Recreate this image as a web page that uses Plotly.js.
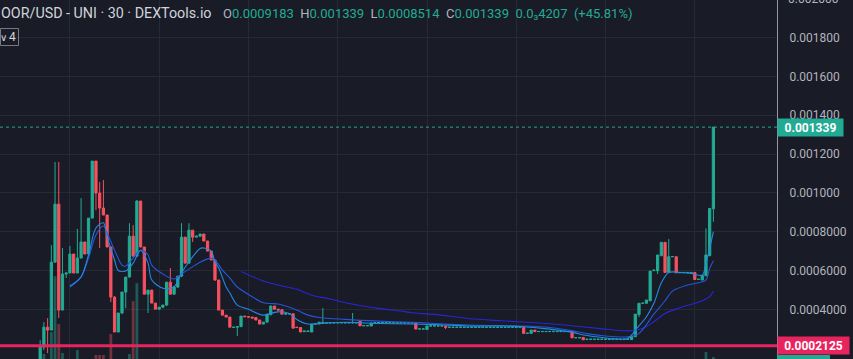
<!DOCTYPE html>
<html><head><meta charset="utf-8">
<script src="https://cdn.plot.ly/plotly-3.0.1.min.js"></script>
<style>html,body{margin:0;padding:0;background:#191b26;overflow:hidden}#chart{width:853px;height:359px}</style>
</head><body><div id="chart"></div>
<script>
// 30-minute candles, OOR/USD (price in USD)
const openP = [
0.000130,0.000205,0.000308,0.000293,0.000643,0.000942,0.000396,0.000582,0.000587,0.000685,
0.000587,0.000664,0.000747,0.000685,0.000870,0.001164,0.000999,0.000922,0.000886,0.000721,
0.000463,0.000283,0.000381,0.000489,0.000566,0.000777,0.000674,0.000958,0.000721,0.000478,
0.000499,0.000432,0.000401,0.000411,0.000422,0.000540,0.000478,0.000515,0.000571,0.000772,
0.000638,0.000808,0.000772,0.000777,0.000788,0.000752,0.000700,0.000654,0.000551,0.000396,
0.000370,0.000360,0.000306,0.000308,0.000311,0.000365,0.000362,0.000360,0.000358,0.000345,
0.000324,0.000334,0.000372,0.000417,0.000401,0.000398,0.000375,0.000376,0.000377,0.000308,
0.000306,0.000285,0.000286,0.000283,0.000324,0.000324,0.000330,0.000330,0.000330,0.000330,
0.000330,0.000330,0.000330,0.000330,0.000330,0.000330,0.000339,0.000315,0.000315,0.000314,
0.000330,0.000330,0.000330,0.000330,0.000330,0.000330,0.000330,0.000330,0.000330,0.000330,
0.000330,0.000329,0.000298,0.000298,0.000296,0.000314,0.000314,0.000314,0.000314,0.000314,
0.000307,0.000307,0.000307,0.000307,0.000307,0.000307,0.000307,0.000307,0.000307,0.000307,
0.000307,0.000307,0.000307,0.000307,0.000307,0.000307,0.000307,0.000307,0.000307,0.000307,
0.000307,0.000276,0.000276,0.000293,0.000285,0.000285,0.000285,0.000285,0.000285,0.000285,
0.000285,0.000285,0.000285,0.000286,0.000253,0.000253,0.000255,0.000245,0.000245,0.000245,
0.000245,0.000245,0.000245,0.000245,0.000245,0.000245,0.000245,0.000245,0.000245,0.000244,
0.000259,0.000373,0.000431,0.000431,0.000444,0.000599,0.000599,0.000676,0.000745,0.000590,
0.000671,0.000671,0.000588,0.000588,0.000588,0.000588,0.000590,0.000554,0.000551,0.000573,
0.000676,0.0009183];
const highP = [
0.000241,0.000334,0.000355,0.000731,0.001159,0.001159,0.000716,0.000587,0.000726,0.000685,
0.000814,0.000973,0.000747,0.000870,0.001164,0.001164,0.001056,0.001066,0.000886,0.000721,
0.000468,0.000381,0.000489,0.000566,0.000844,0.000834,0.000963,0.000958,0.000721,0.000499,
0.000499,0.000432,0.000411,0.000422,0.000540,0.000613,0.000515,0.000571,0.000844,0.000772,
0.000844,0.000808,0.000777,0.000788,0.000788,0.000752,0.000700,0.000654,0.000551,0.000396,
0.000370,0.000360,0.000308,0.000311,0.000365,0.000366,0.000363,0.000360,0.000360,0.000345,
0.000334,0.000375,0.000417,0.000417,0.000401,0.000398,0.000377,0.000377,0.000377,0.000308,
0.000306,0.000288,0.000288,0.000324,0.000325,0.000334,0.000406,0.000331,0.000331,0.000331,
0.000331,0.000331,0.000331,0.000331,0.000381,0.000331,0.000339,0.000316,0.000316,0.000330,
0.000331,0.000331,0.000331,0.000331,0.000331,0.000331,0.000331,0.000331,0.000331,0.000331,
0.000331,0.000329,0.000299,0.000299,0.000314,0.000315,0.000315,0.000315,0.000315,0.000314,
0.000308,0.000308,0.000308,0.000308,0.000308,0.000308,0.000308,0.000308,0.000308,0.000308,
0.000308,0.000308,0.000308,0.000308,0.000308,0.000308,0.000308,0.000308,0.000308,0.000308,
0.000307,0.000277,0.000293,0.000293,0.000286,0.000286,0.000286,0.000286,0.000286,0.000286,
0.000286,0.000286,0.000286,0.000286,0.000254,0.000254,0.000255,0.000246,0.000246,0.000246,
0.000246,0.000246,0.000246,0.000246,0.000246,0.000246,0.000246,0.000246,0.000246,0.000262,
0.000375,0.000431,0.000432,0.000448,0.000597,0.000602,0.000680,0.000745,0.000745,0.000762,
0.000672,0.000671,0.000590,0.000590,0.000590,0.000590,0.000590,0.000555,0.000576,0.000817,
0.000920,0.001339];
const lowP = [
0.000125,0.000190,0.000174,0.000293,0.000643,0.000355,0.000396,0.000561,0.000587,0.000587,
0.000587,0.000664,0.000685,0.000685,0.000870,0.000911,0.000716,0.000886,0.000721,0.000437,
0.000283,0.000283,0.000375,0.000406,0.000566,0.000674,0.000674,0.000721,0.000478,0.000381,
0.000432,0.000401,0.000396,0.000406,0.000417,0.000478,0.000478,0.000509,0.000566,0.000638,
0.000638,0.000747,0.000772,0.000772,0.000752,0.000700,0.000654,0.000546,0.000396,0.000370,
0.000360,0.000308,0.000306,0.000262,0.000308,0.000361,0.000359,0.000355,0.000345,0.000324,
0.000324,0.000334,0.000370,0.000401,0.000396,0.000375,0.000375,0.000376,0.000303,0.000306,
0.000283,0.000285,0.000286,0.000283,0.000324,0.000324,0.000330,0.000330,0.000330,0.000330,
0.000330,0.000330,0.000330,0.000330,0.000330,0.000330,0.000314,0.000315,0.000315,0.000314,
0.000330,0.000330,0.000330,0.000330,0.000330,0.000330,0.000330,0.000330,0.000330,0.000330,
0.000330,0.000298,0.000298,0.000298,0.000296,0.000314,0.000314,0.000314,0.000314,0.000298,
0.000307,0.000307,0.000307,0.000307,0.000307,0.000307,0.000307,0.000307,0.000307,0.000307,
0.000307,0.000307,0.000307,0.000307,0.000307,0.000307,0.000307,0.000307,0.000307,0.000307,
0.000276,0.000276,0.000276,0.000285,0.000285,0.000285,0.000285,0.000285,0.000285,0.000285,
0.000285,0.000285,0.000285,0.000253,0.000253,0.000253,0.000243,0.000245,0.000245,0.000245,
0.000245,0.000245,0.000245,0.000245,0.000245,0.000245,0.000245,0.000245,0.000245,0.000244,
0.000259,0.000360,0.000431,0.000431,0.000444,0.000599,0.000582,0.000676,0.000590,0.000590,
0.000671,0.000588,0.000588,0.000588,0.000588,0.000588,0.000554,0.000554,0.000551,0.000573,
0.000676,0.0008514];
const closeP = [
0.000205,0.000308,0.000293,0.000643,0.000942,0.000396,0.000582,0.000587,0.000685,0.000587,
0.000664,0.000747,0.000685,0.000870,0.001164,0.000999,0.000922,0.000886,0.000721,0.000463,
0.000283,0.000381,0.000489,0.000566,0.000777,0.000674,0.000958,0.000721,0.000478,0.000499,
0.000432,0.000401,0.000411,0.000422,0.000540,0.000478,0.000515,0.000571,0.000772,0.000638,
0.000808,0.000772,0.000777,0.000788,0.000752,0.000700,0.000654,0.000551,0.000396,0.000370,
0.000360,0.000308,0.000308,0.000311,0.000365,0.000362,0.000360,0.000355,0.000345,0.000324,
0.000334,0.000375,0.000417,0.000401,0.000396,0.000375,0.000377,0.000377,0.000303,0.000306,
0.000283,0.000288,0.000288,0.000324,0.000325,0.000334,0.000331,0.000331,0.000331,0.000331,
0.000331,0.000331,0.000331,0.000331,0.000331,0.000331,0.000315,0.000316,0.000316,0.000330,
0.000331,0.000331,0.000331,0.000331,0.000331,0.000331,0.000331,0.000331,0.000331,0.000331,
0.000331,0.000298,0.000299,0.000299,0.000314,0.000315,0.000315,0.000315,0.000315,0.000307,
0.000308,0.000308,0.000308,0.000308,0.000308,0.000308,0.000308,0.000308,0.000308,0.000308,
0.000308,0.000308,0.000308,0.000308,0.000308,0.000308,0.000308,0.000308,0.000308,0.000308,
0.000276,0.000277,0.000293,0.000285,0.000286,0.000286,0.000286,0.000286,0.000286,0.000286,
0.000286,0.000286,0.000286,0.000253,0.000254,0.000254,0.000243,0.000246,0.000246,0.000246,
0.000246,0.000246,0.000246,0.000246,0.000246,0.000246,0.000246,0.000246,0.000246,0.000262,
0.000375,0.000431,0.000432,0.000448,0.000597,0.000602,0.000680,0.000745,0.000590,0.000671,
0.000672,0.000588,0.000590,0.000590,0.000590,0.000590,0.000554,0.000555,0.000576,0.000680,
0.000920,0.001339];

// volume (k USD) for the bars that show above the bottom edge
const volBar = [1,3,4,5,6,10,15,16,17,19,24,25,26,179,181];
const volVal = [5,27,83,35,6,9,4,4,4,25,5,58,76,7,2];

// moving averages, read at sample bars
const maFastBar = [8,11,13,15,17,18,20,21,23,25,27,29,30,33,36,38,40,43,44,46,47,48,50,51,53,56,60,62,64,67,69,72,75,82,91,100,106,115,124,130,137,142,147,150,158,160,163,165,167,169,172,175,178,179,180,181];
const maFastVal = [0.000520,0.000568,0.000680,0.000819,0.000846,0.000774,0.000654,0.000600,0.000598,0.000638,0.000703,0.000638,0.000551,0.000509,0.000516,0.000587,0.000645,0.000714,0.000716,0.000700,0.000643,0.000613,0.000515,0.000484,0.000422,0.000400,0.000370,0.000379,0.000387,0.000379,0.000348,0.000324,0.000327,0.000333,0.000327,0.000324,0.000322,0.000314,0.000314,0.000310,0.000298,0.000285,0.000265,0.000257,0.000250,0.000293,0.000362,0.000431,0.000537,0.000590,0.000590,0.000585,0.000576,0.000637,0.000714,0.000800];
const maMidBar = [8,11,13,15,17,18,20,22,23,25,27,29,30,33,36,38,40,43,46,47,49,51,53,57,60,64,66,69,72,75,82,91,100,106,115,124,130,137,142,147,150,158,161,165,168,170,174,177,179,180,181];
const maMidVal = [0.000515,0.000566,0.000664,0.000783,0.000829,0.000793,0.000705,0.000628,0.000623,0.000664,0.000705,0.000680,0.000628,0.000582,0.000556,0.000582,0.000607,0.000643,0.000664,0.000654,0.000602,0.000561,0.000515,0.000465,0.000434,0.000427,0.000417,0.000396,0.000370,0.000358,0.000348,0.000339,0.000333,0.000327,0.000319,0.000316,0.000314,0.000306,0.000293,0.000275,0.000267,0.000258,0.000276,0.000375,0.000444,0.000494,0.000525,0.000537,0.000551,0.000611,0.000650];
const maSlowBar = [54,60,64,69,73,78,82,91,97,100,106,115,124,133,141,150,158,162,165,168,172,176,178,180,181];
const maSlowVal = [0.000595,0.000546,0.000525,0.000503,0.000473,0.000453,0.000434,0.000405,0.000391,0.000382,0.000374,0.000353,0.000341,0.000331,0.000319,0.000302,0.000289,0.000302,0.000336,0.000379,0.000408,0.000431,0.000444,0.000465,0.000494];

const gridBars = [8,32,56,80,104,128,152,176];
const priceTicks = [0.0004,0.0006,0.0008,0.0010,0.0012,0.0014,0.0016,0.0018];
const priceTickText = ['0.0004000','0.0006000','0.0008000','0.001000','0.001200','0.001400','0.001600','0.001800'];
const lastPrice = 0.001339;
const linePrice = 0.0002125;

const UP = '#22ab94', DOWN = '#f7525f';
const bars = openP.map((_, i) => i);
const volColors = volBar.map(i => closeP[i] >= openP[i] ? 'rgba(34,171,148,0.45)' : 'rgba(247,82,95,0.40)');

const traces = [
  {type:'bar', x: volBar, y: volVal, yaxis:'y', xaxis:'x', width:0.75, marker:{color: volColors, line:{width:0}}, hoverinfo:'skip'},
  {type:'candlestick', x: bars, open: openP, high: highP, low: lowP, close: closeP, xaxis:'x', yaxis:'y2',
   increasing:{line:{color:UP, width:1}, fillcolor:UP}, decreasing:{line:{color:DOWN, width:1}, fillcolor:DOWN},
   whiskerwidth:0, hoverinfo:'skip'},
  {type:'scatter', mode:'lines', x: maSlowBar, y: maSlowVal, yaxis:'y2', line:{color:'#2a26d6', width:1.1, shape:'spline', smoothing:0.9}, hoverinfo:'skip'},
  {type:'scatter', mode:'lines', x: maMidBar, y: maMidVal, yaxis:'y2', line:{color:'#2457d8', width:1.1, shape:'spline', smoothing:0.9}, hoverinfo:'skip'},
  {type:'scatter', mode:'lines', x: maFastBar, y: maFastVal, yaxis:'y2', line:{color:'#228ae8', width:1.1, shape:'spline', smoothing:0.9}, hoverinfo:'skip'}
];

const PW = 777, PH = 359;
const G = '#b2b5be';
const sp = '\u00a0\u00a0';
const layout = {
  width:853, height:359,
  margin:{l:0, r:76, t:0, b:0, pad:0},
  paper_bgcolor:'#191b26', plot_bgcolor:'#191b26',
  showlegend:false,
  boxgap:0.25, boxgroupgap:0.2,
  font:{family:'Roboto, sans-serif', color:G},
  xaxis:{range:[-10.8, 198.1], tickvals: gridBars, showticklabels:false, ticks:'', showgrid:true, gridcolor:'#262a35', gridwidth:1, zeroline:false, showline:false, rangeslider:{visible:false}, fixedrange:true},
  yaxis:{range:[0, 360], visible:false, showgrid:false, zeroline:false, fixedrange:true},
  yaxis2:{overlaying:'y', side:'right', range:[0.000144, 0.001994], tickvals: priceTicks, ticktext: priceTickText,
          showgrid:true, gridcolor:'#262a35', gridwidth:1, zeroline:false, showline:true, linecolor:'#9598a1', linewidth:1,
          ticks:'', ticklabelstandoff:9, tickfont:{family:'Roboto, sans-serif', size:12, color:G}, fixedrange:true},
  shapes:[
    {type:'line', xref:'paper', x0:0, x1:1, yref:'y2', y0:linePrice, y1:linePrice, line:{color:'#e8245f', width:3}},
    {type:'line', xref:'paper', x0:0, x1:1, yref:'y2', y0:lastPrice, y1:lastPrice, line:{color:UP, width:1, dash:'dot'}},
    {type:'rect', xref:'paper', x0:1, x1:1+53/PW, yref:'paper', y0:-0.05, y1:4/PH, fillcolor:UP, line:{width:0}},
    {type:'rect', xref:'paper', x0:0.5/PW, x1:18.5/PW, yref:'paper', y0:1-45.5/PH, y1:1-28.5/PH, fillcolor:'rgba(0,0,0,0)', line:{color:'#777a85', width:1}}
  ],
  annotations:[
    {xref:'paper', yref:'paper', x:-1/PW, y:1-13.5/PH, xanchor:'left', yanchor:'middle', showarrow:false,
     text:'OOR/USD - UNI · 30 · DEXTools.io', font:{family:'Roboto, sans-serif', size:14.3, color:'#d1d4dc'}},
    {xref:'paper', yref:'paper', x:221/PW, y:1-13.5/PH, xanchor:'left', yanchor:'middle', showarrow:false,
     font:{family:'Roboto, sans-serif', size:13, color:UP},
     text:'<span style="color:#b2b5be">O</span>0.0009183'+sp+'<span style="color:#b2b5be">H</span>0.001339'+sp+'<span style="color:#b2b5be">L</span>0.0008514'+sp+'<span style="color:#b2b5be">C</span>0.001339'+sp+'0.0₃4207'+sp+'(+45.81%)'},
    {xref:'paper', yref:'paper', x:3/PW, y:1-37/PH, xanchor:'center', yanchor:'middle', showarrow:false,
     text:'∨', font:{family:'DejaVu Sans, sans-serif', size:10, color:'#d1d4dc'}},
    {xref:'paper', yref:'paper', x:12.5/PW, y:1-37/PH, xanchor:'center', yanchor:'middle', showarrow:false,
     text:'4', font:{family:'Roboto, sans-serif', size:12, color:'#d1d4dc'}},
    {xref:'paper', yref:'paper', x:1, y:1+1/PH, xanchor:'left', yanchor:'middle', xshift:9, showarrow:false,
     text:'0.002000', font:{family:'Roboto, sans-serif', size:12, color:G}},
    {xref:'paper', yref:'y2', x:1, y:lastPrice, xanchor:'left', yanchor:'middle', showarrow:false,
     text:'<b>0.001339</b>', bgcolor:UP, borderpad:2, width:61, height:13, align:'center',
     font:{family:'Roboto, sans-serif', size:12, color:'#ffffff'}},
    {xref:'paper', yref:'y2', x:1, y:linePrice, xanchor:'left', yanchor:'middle', showarrow:false,
     text:'<b>0.0002125</b>', bgcolor:'#e8245f', borderpad:2, width:67, height:13, align:'center',
     font:{family:'Roboto, sans-serif', size:12, color:'#ffffff'}}
  ]
};

Plotly.newPlot('chart', traces, layout, {staticPlot:true, displayModeBar:false});
</script>
</body></html>
